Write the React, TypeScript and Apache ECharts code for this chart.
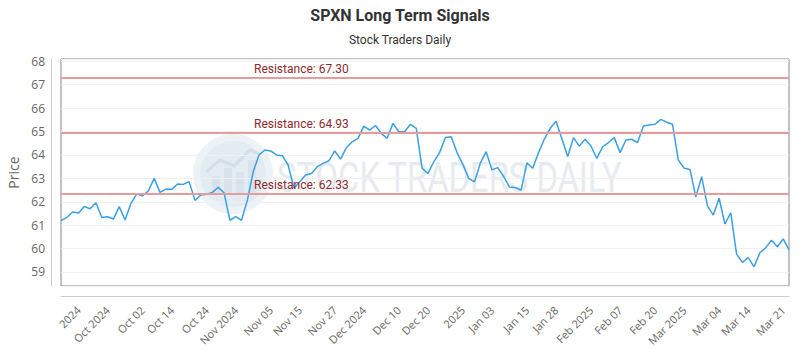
import React, { useEffect, useRef } from 'react';
import * as echarts from 'echarts';

const prices = [
  61.19, 61.33, 61.56, 61.52, 61.8, 61.7, 61.96, 61.33, 61.36, 61.26,
  61.79, 61.22, 61.93, 62.33, 62.26, 62.46, 63.0, 62.4, 62.54, 62.53,
  62.76, 62.74, 62.86, 62.06, 62.29, 62.32, 62.4, 62.62, 62.38, 61.21,
  61.36, 61.21, 62.07, 63.28, 64.0, 64.21, 64.17, 64.0, 63.97, 63.57,
  62.58, 62.86, 63.14, 63.21, 63.5, 63.64, 63.75, 64.17, 63.82, 64.31,
  64.56, 64.71, 65.23, 65.06, 65.26, 64.92, 64.71, 65.35, 64.99, 64.99,
  65.31, 65.14, 63.43, 63.21, 63.7, 64.1, 64.75, 64.78, 64.1, 63.6,
  63.0, 62.85, 63.65, 64.14, 63.36, 63.46, 63.08, 62.63, 62.61, 62.5,
  63.66, 63.43, 64.1, 64.68, 65.14, 65.44, 64.69, 63.93, 64.74, 64.38,
  64.67, 64.38, 63.85, 64.35, 64.53, 64.74, 64.1, 64.64, 64.67, 64.53,
  65.24, 65.28, 65.31, 65.52, 65.4, 65.31, 63.78, 63.43, 63.38, 62.21,
  63.07, 61.82, 61.43, 62.15, 61.05, 61.53, 59.76, 59.41, 59.61, 59.22,
  59.82, 60.03, 60.36, 60.08, 60.41, 59.94,
];

const tickIndex = [3, 8, 14, 19, 25, 30, 36, 41, 47, 52, 58, 63, 69, 74, 80, 85, 91, 96, 102, 107, 113, 118, 124];
const tickLabels = [
  '2024', 'Oct 2024', 'Oct 02', 'Oct 14', 'Oct 24', 'Nov 2024', 'Nov 05', 'Nov 15',
  'Nov 27', 'Dec 2024', 'Dec 10', 'Dec 20', '2025', 'Jan 03', 'Jan 15', 'Jan 28',
  'Feb 2025', 'Feb 07', 'Feb 20', 'Mar 2025', 'Mar 04', 'Mar 14', 'Mar 21',
];
const resistanceLevels = [67.3, 64.93, 62.33];

const categories = prices.map((_, i) => String(i));

export default function App() {
  const ref = useRef<HTMLDivElement>(null);
  useEffect(() => {
    if (!ref.current) return;
    const chart = echarts.init(ref.current, null, { renderer: 'svg' });
    const labelMap: Record<number, string> = {};
    tickIndex.forEach((idx, k) => { labelMap[idx] = tickLabels[k]; });
    chart.setOption({
      animation: false,
      backgroundColor: '#fff',
      title: [
        {
          text: 'SPXN Long Term Signals',
          left: 'center',
          top: 7,
          padding: 0,
          textStyle: { fontSize: 16, fontWeight: 'bold', color: '#333', fontFamily: 'Roboto' },
        },
        {
          text: 'Stock Traders Daily',
          left: 'center',
          top: 34,
          padding: 0,
          textStyle: { fontSize: 12, fontWeight: 'normal', color: '#333', fontFamily: 'Roboto' },
        },
      ],
      grid: {
        left: 61,
        right: 11,
        top: 59,
        bottom: 64,
        show: true,
        borderColor: '#888',
        borderWidth: 1,
        backgroundColor: 'transparent',
        outerBoundsMode: 'none',
      },
      graphic: [
        { type: 'circle', silent: true, z: 0, shape: { cx: 233, cy: 174, r: 40 }, style: { fill: '#edf2f7' } },
        { type: 'circle', silent: true, z: 0, shape: { cx: 233, cy: 174, r: 33 }, style: { fill: '#e3ebf3' } },
        { type: 'rect', silent: true, z: 0, shape: { x: 212, y: 176, width: 8, height: 18 }, style: { fill: '#d8e3ed' } },
        { type: 'rect', silent: true, z: 0, shape: { x: 224, y: 168, width: 8, height: 26 }, style: { fill: '#d8e3ed' } },
        { type: 'rect', silent: true, z: 0, shape: { x: 236, y: 172, width: 8, height: 22 }, style: { fill: '#d8e3ed' } },
        { type: 'rect', silent: true, z: 0, shape: { x: 248, y: 160, width: 8, height: 34 }, style: { fill: '#d8e3ed' } },
        {
          type: 'polyline', silent: true, z: 0,
          shape: { points: [[206, 172], [220, 160], [234, 166], [250, 150], [260, 154]] },
          style: { stroke: '#d2dee9', lineWidth: 3, fill: 'none' },
        },
        {
          type: 'text', silent: true, z: 0, x: 277, y: 178, scaleX: 0.78,
          style: {
            text: 'STOCK TRADERS DAILY', fontSize: 42, fontFamily: 'Roboto',
            fill: '#e7ebef', verticalAlign: 'middle', textVerticalAlign: 'middle', align: 'left',
          },
        },
      ],
      xAxis: {
        type: 'category',
        data: categories,
        boundaryGap: false,
        offset: 10,
        axisLine: { show: true, lineStyle: { color: '#ccc' } },
        axisTick: { show: false },
        splitLine: { show: false },
        axisLabel: {
          interval: (idx: number) => labelMap[idx] !== undefined,
          formatter: (_v: string, idx: number) => labelMap[idx] ?? '',
          rotate: 45,
          color: '#666',
          fontSize: 11,
          fontFamily: 'Open Sans',
          margin: 12,
        },
      },
      yAxis: {
        type: 'value',
        min: 58.4,
        max: 68.1,
        splitNumber: 10,
        offset: 10,
        name: 'Price',
        nameLocation: 'middle',
        nameGap: 26,
        nameTextStyle: { fontSize: 14, color: '#666', fontFamily: 'Open Sans' },
        axisLine: { show: true, lineStyle: { color: '#ccc' } },
        axisTick: { show: false },
        axisLabel: {
          color: '#666',
          fontSize: 12,
          fontFamily: 'Open Sans',
          margin: 6,
          showMinLabel: false,
          showMaxLabel: false,
        },
        splitLine: { show: true, lineStyle: { color: '#f0f0f0' } },
      },
      series: [
        {
          type: 'line',
          data: prices,
          showSymbol: false,
          symbol: 'none',
          z: 3,
          lineStyle: { color: '#3aa0e6', width: 1.5 },
          itemStyle: { color: '#3aa0e6' },
          markLine: {
            silent: true,
            symbol: 'none',
            animation: false,
            lineStyle: { color: '#e59c9c', width: 2, type: 'solid' },
            label: {
              position: 'insideStartTop',
              distance: 3,
              padding: [0, 0, 0, 190],
              color: '#8e2a2a',
              fontSize: 12,
              fontFamily: 'Roboto',
            },
            emphasis: { disabled: true },
            data: resistanceLevels.map((v) => ({
              yAxis: v,
              label: { formatter: 'Resistance: ' + v.toFixed(2) },
            })),
          },
        },
      ],
    });
    return () => chart.dispose();
  }, []);
  return (
    <div
      ref={ref}
      style={{ position: 'fixed', left: 0, top: 0, width: 800, height: 350 }}
    />
  );
}
